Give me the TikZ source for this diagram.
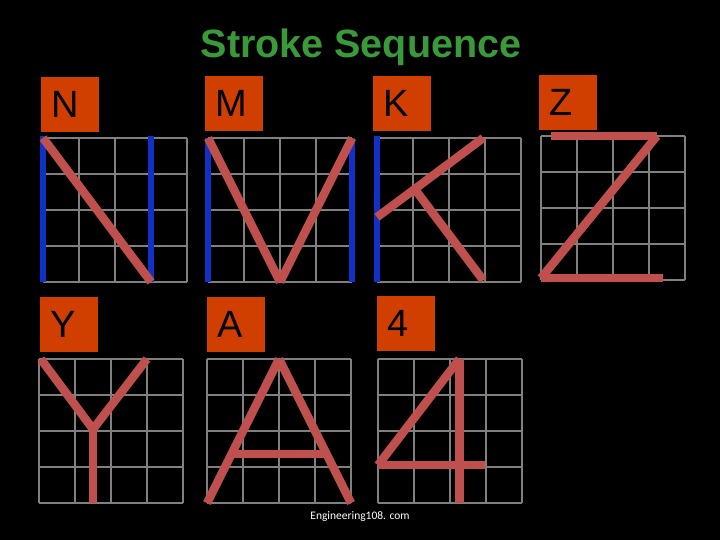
\documentclass[tikz,border=0pt]{standalone}
\usepackage{fontspec}
\setmainfont{Liberation Sans}
\newfontfamily\footfont{Carlito}
\usepackage{tikz}
\usetikzlibrary{positioning}
\definecolor{slidebg}{RGB}{0,0,0}
\definecolor{boxorange}{RGB}{208,62,0}
\definecolor{strokered}{RGB}{192,80,77}
\definecolor{strokeblue}{RGB}{16,48,200}
\definecolor{gridgray}{RGB}{128,128,128}
\definecolor{titlegreen}{RGB}{58,154,58}
\tikzset{
  letterbox/.style={rectangle, fill=boxorange, anchor=north west,
    minimum width=58pt, minimum height=55pt, text width=38pt,
    inner xsep=10pt, inner ysep=0pt, align=left,
    font=\fontsize{38}{40}\selectfont},
  gridline/.style={draw=gridgray, line width=1.6pt},
  redstroke/.style={draw=strokered, line width=8.5pt},
  bluestroke/.style={draw=strokeblue, line width=6pt}
}

\begin{document}
\begin{tikzpicture}[x=1pt, y=-1pt]
  % Slide background
  \fill[slidebg] (0,0) rectangle (720,540);
  \useasboundingbox (0,0) rectangle (720,540);

  % Title
  \node[font=\fontsize{39.5}{41}\selectfont\bfseries, text=titlegreen, anchor=base] (title) at (361,58) {Stroke Sequence};

  % Letter boxes
  \node[letterbox] (boxN) at (41,77) {N};
  \node[letterbox] (boxM) at (205,76) {M};
  \node[letterbox] (boxK) at (373,76) {K};
  \node[letterbox] (boxZ) at (539,75) {Z};
  \node[letterbox] (boxY) at (40,297) {Y};
  \node[letterbox] (boxA) at (207,297) {A};
  \node[letterbox] (box4) at (377,296) {4};

  % Grid N
  \begin{scope}[shift={(43,138)}, x=36pt, y=-36pt]
    \foreach \i in {0,...,4} {
      \draw[gridline] (\i,0) -- (\i,4);
      \draw[gridline] (0,\i) -- (4,\i);
    }
    \draw[bluestroke] (0,-0.05) -- (0,4);
    \draw[bluestroke] (3,-0.05) -- (3,4);
    \draw[redstroke] (0,0) -- (3,4);
  \end{scope}

  % Grid M
  \begin{scope}[shift={(208,138)}, x=36pt, y=-36pt]
    \foreach \i in {0,...,4} {
      \draw[gridline] (\i,0) -- (\i,4);
      \draw[gridline] (0,\i) -- (4,\i);
    }
    \draw[bluestroke] (0,0) -- (0,4);
    \draw[bluestroke] (4,0) -- (4,4);
    \draw[redstroke] (0,0) -- (2,4);
    \draw[redstroke] (4,0) -- (2,4);
  \end{scope}

  % Grid K
  \begin{scope}[shift={(377,138)}, x=36pt, y=-36pt]
    \foreach \i in {0,...,4} {
      \draw[gridline] (\i,0) -- (\i,4);
      \draw[gridline] (0,\i) -- (4,\i);
    }
    \draw[bluestroke] (0,-0.05) -- (0,4);
    \draw[redstroke] (0,2.2) -- (2.95,0);
    \draw[redstroke] (1.05,1.42) -- (2.95,3.95);
  \end{scope}

  % Grid Z
  \begin{scope}[shift={(541,136)}, x=36pt, y=-36pt]
    \foreach \i in {0,...,4} {
      \draw[gridline] (\i,0) -- (\i,4);
      \draw[gridline] (0,\i) -- (4,\i);
    }
    \draw[redstroke] (0.28,0) -- (3.22,0);
    \draw[redstroke] (3.22,0) -- (0,3.95);
    \draw[redstroke] (0,3.95) -- (3.39,3.95);
  \end{scope}

  % Grid Y
  \begin{scope}[shift={(39,359)}, x=36pt, y=-36pt]
    \foreach \i in {0,...,4} {
      \draw[gridline] (\i,0) -- (\i,4);
      \draw[gridline] (0,\i) -- (4,\i);
    }
    \draw[redstroke] (0.05,0) -- (1.5,1.95);
    \draw[redstroke] (3,0) -- (1.5,1.95);
    \draw[redstroke] (1.5,1.95) -- (1.5,4);
  \end{scope}

  % Grid A
  \begin{scope}[shift={(207,359)}, x=36pt, y=-36pt]
    \foreach \i in {0,...,4} {
      \draw[gridline] (\i,0) -- (\i,4);
      \draw[gridline] (0,\i) -- (4,\i);
    }
    \draw[redstroke] (2,0) -- (0,4);
    \draw[redstroke] (2,0) -- (4,4);
    \draw[redstroke] (0.68,2.64) -- (3.32,2.64);
  \end{scope}

  % Grid 4
  \begin{scope}[shift={(378,359)}, x=36pt, y=-36pt]
    \foreach \i in {0,...,4} {
      \draw[gridline] (\i,0) -- (\i,4);
      \draw[gridline] (0,\i) -- (4,\i);
    }
    \draw[redstroke] (2.26,0) -- (2.26,4);
    \draw[redstroke] (2.26,0) -- (0,2.95);
    \draw[redstroke] (0,2.95) -- (2.97,2.95);
  \end{scope}

  % Footer
  \node[font=\footfont\fontsize{11.5}{13}\selectfont, text=white, anchor=base] (footer) at (360,519) {Engineering108. com};
\end{tikzpicture}
\end{document}
